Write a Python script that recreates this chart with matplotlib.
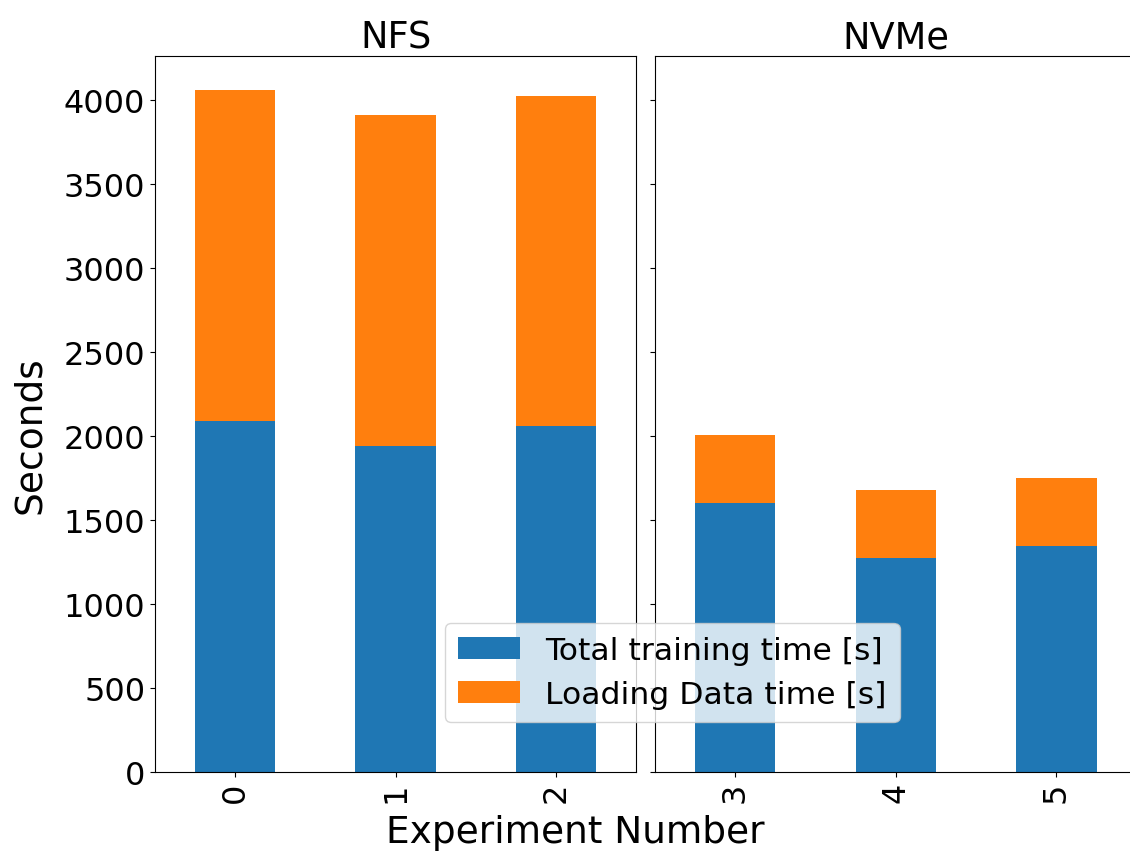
import numpy as np
import matplotlib
matplotlib.use("Agg")
import matplotlib.pyplot as plt

nfs_exp = [0, 1, 2]
nvme_exp = [3, 4, 5]
nfs_train = [2089, 1940, 2060]
nfs_load = [1970, 1971, 1964]
nvme_train = [1601, 1274, 1345]
nvme_load = [405, 405, 405]

fig = plt.figure(figsize=(11.3, 8.54), dpi=100)
ax1 = fig.add_axes([0.1372, 0.0948, 0.4256, 0.8385])
ax2 = fig.add_axes([0.5795, 0.0948, 0.4265, 0.8385], sharey=ax1)

for ax, exp, train, load, title in [(ax1, nfs_exp, nfs_train, nfs_load, "NFS"),
                                    (ax2, nvme_exp, nvme_train, nvme_load, "NVMe")]:
    x = np.arange(len(exp))
    ax.bar(x, train, width=0.5, color="#1f77b4", label="Total training time [s]")
    ax.bar(x, load, width=0.5, bottom=train, color="#ff7f0e", label="Loading Data time [s]")
    ax.set_xticks(x)
    ax.set_xticklabels([str(e) for e in exp], rotation=90)
    ax.set_xlim(-0.5, len(exp) - 0.5)
    ax.set_title(title, fontsize=26.5)
    ax.tick_params(labelsize=23)

plt.setp(ax2.get_yticklabels(), visible=False)
fig.text(0.0265, 0.4906, "Seconds", ha="center", va="center", rotation=90, fontsize=27)
fig.text(0.509, 0.004, "Experiment Number", ha="center", va="bottom", fontsize=27)

handles, labels = ax1.get_legend_handles_labels()
fig.legend(handles, labels, loc="lower left", bbox_to_anchor=(445 / 1130, 1 - 723 / 854),
           borderaxespad=0, fontsize=22.6)

fig.savefig("out.png", dpi=100)
